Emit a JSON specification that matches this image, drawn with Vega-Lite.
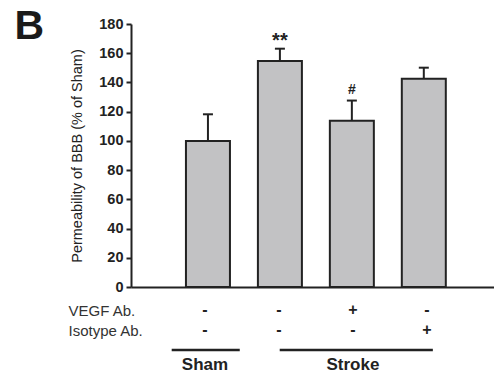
{
  "$schema": "https://vega.github.io/schema/vega-lite/v6.json",
  "background": "white",
  "padding": {"left": 14, "top": 6, "right": 0, "bottom": 0},
  "title": {"text": "B", "orient": "left", "anchor": "end", "angle": 0, "fontSize": 41, "fontWeight": "bold", "font": "Liberation Sans", "color": "#1a1a1a", "offset": 24, "baseline": "top", "align": "left", "dy": -9},
  "datasets": {
    "bars": [
      {"group": 1, "mean": 100, "upper": 118.2, "note": ""},
      {"group": 2, "mean": 154.7, "upper": 163.1, "note": "**"},
      {"group": 3, "mean": 113.7, "upper": 127.6, "note": "#"},
      {"group": 4, "mean": 142.6, "upper": 150.1, "note": ""}
    ],
    "cells": [
      {"group": 1, "row": "VEGF Ab.", "sign": "-"},
      {"group": 2, "row": "VEGF Ab.", "sign": "-"},
      {"group": 3, "row": "VEGF Ab.", "sign": "+"},
      {"group": 4, "row": "VEGF Ab.", "sign": "-"},
      {"group": 1, "row": "Isotype Ab.", "sign": "-"},
      {"group": 2, "row": "Isotype Ab.", "sign": "-"},
      {"group": 3, "row": "Isotype Ab.", "sign": "-"},
      {"group": 4, "row": "Isotype Ab.", "sign": "+"}
    ],
    "spans": [
      {"name": "Sham", "from": 0.55, "to": 1.47, "center": 1},
      {"name": "Stroke", "from": 2.01, "to": 4.08, "center": 3}
    ]
  },
  "spacing": 6,
  "vconcat": [
    {
      "width": 364,
      "height": 263,
      "data": {"name": "bars"},
      "resolve": {"axis": {"x": "independent", "y": "independent"}},
      "layer": [
        {
          "mark": {"type": "bar", "size": 44, "fill": "#c2c2c4", "stroke": "#222", "strokeWidth": 2},
          "encoding": {
            "x": {"field": "group", "type": "quantitative", "scale": {"domain": [0, 4.92], "nice": false, "zero": false},
              "axis": {"labels": false, "ticks": false, "title": null, "grid": false, "domainWidth": 2, "domainColor": "#222"}},
            "y": {"field": "mean", "type": "quantitative", "scale": {"domain": [0, 180], "nice": false},
              "axis": {"values": [0, 20, 40, 60, 80, 100, 120, 140, 160, 180], "tickCount": 10, "title": "Permeability of BBB (% of Sham)",
                "labelOverlap": false, "labelFlush": false, "labelSeparation": 0,
                "titleFont": "Liberation Sans", "titleFontSize": 14.5, "titleFontWeight": "normal", "titleColor": "#222", "titlePadding": 14,
                "labelFont": "Liberation Sans", "labelFontSize": 14.5, "labelFontWeight": "bold", "labelColor": "#222",
                "ticks": true, "tickSize": 5, "tickWidth": 2, "tickColor": "#222", "labelPadding": 3,
                "domainWidth": 2, "domainColor": "#222", "grid": false}}
          }
        },
        {
          "mark": {"type": "rule", "stroke": "#222", "strokeWidth": 2},
          "encoding": {
            "x": {"field": "group", "type": "quantitative", "axis": null},
            "y": {"field": "mean", "type": "quantitative", "axis": null},
            "y2": {"field": "upper"}
          }
        },
        {
          "mark": {"type": "tick", "orient": "horizontal", "size": 10, "thickness": 2, "color": "#222", "opacity": 1},
          "encoding": {
            "x": {"field": "group", "type": "quantitative", "axis": null},
            "y": {"field": "upper", "type": "quantitative", "axis": null}
          }
        },
        {
          "transform": [{"filter": "datum.note == '**'"}],
          "mark": {"type": "text", "fontSize": 20, "fontWeight": "bold", "font": "Liberation Sans", "color": "#222", "baseline": "middle", "dy": -8},
          "encoding": {
            "x": {"field": "group", "type": "quantitative", "axis": null},
            "y": {"field": "upper", "type": "quantitative", "axis": null},
            "text": {"field": "note"}
          }
        },
        {
          "transform": [{"filter": "datum.note == '#'"}],
          "mark": {"type": "text", "fontSize": 14, "fontWeight": "bold", "font": "Liberation Sans", "color": "#222", "baseline": "middle", "dy": -11},
          "encoding": {
            "x": {"field": "group", "type": "quantitative", "axis": null},
            "y": {"field": "upper", "type": "quantitative", "axis": null},
            "text": {"field": "note"}
          }
        }
      ]
    },
    {
      "width": 364,
      "height": 80,
      "layer": [
        {
          "data": {"name": "cells"},
          "mark": {"type": "text", "fontSize": 16, "fontWeight": "bold", "font": "Liberation Sans", "color": "#222", "baseline": "middle"},
          "encoding": {
            "x": {"field": "group", "type": "quantitative", "scale": {"domain": [0, 4.92], "nice": false, "zero": false}, "axis": null},
            "y": {"field": "row", "type": "nominal", "scale": {"type": "point", "domain": ["VEGF Ab.", "Isotype Ab.", "line", "group"], "padding": 0.5},
              "axis": {"title": null, "ticks": false, "domain": false, "labelAlign": "left", "labelPadding": 63, "labelBaseline": "middle",
                "labelFont": "Liberation Sans", "labelFontSize": 15, "labelFontWeight": "normal", "labelColor": "#333",
                "labelExpr": "datum.value == 'line' || datum.value == 'group' ? '' : datum.value"}},
            "text": {"field": "sign"}
          }
        },
        {
          "data": {"name": "spans"},
          "mark": {"type": "rule", "stroke": "#222", "strokeWidth": 2.5},
          "encoding": {
            "x": {"field": "from", "type": "quantitative"},
            "x2": {"field": "to"},
            "y": {"datum": "line"}
          }
        },
        {
          "data": {"name": "spans"},
          "mark": {"type": "text", "fontSize": 17, "fontWeight": "bold", "font": "Liberation Sans", "color": "#222", "baseline": "middle", "dy": -5},
          "encoding": {
            "x": {"field": "center", "type": "quantitative"},
            "y": {"datum": "group"},
            "text": {"field": "name"}
          }
        }
      ]
    }
  ],
  "config": {"view": {"stroke": null}}
}
